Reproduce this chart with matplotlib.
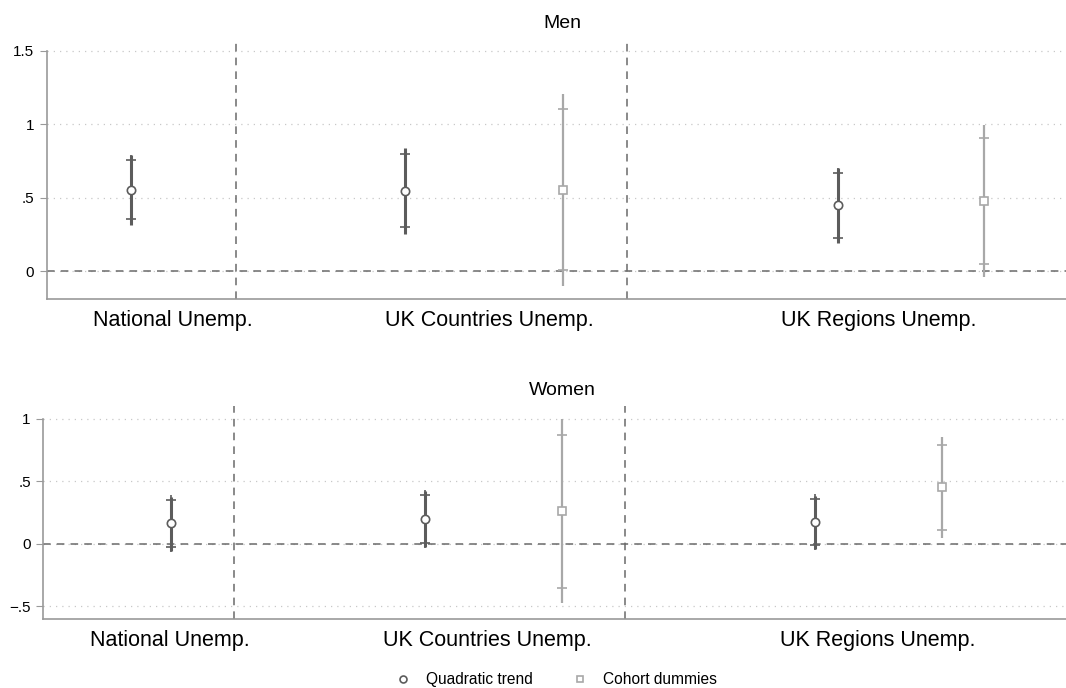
import numpy as np
import matplotlib.pyplot as plt
from matplotlib.lines import Line2D

plt.rcParams['font.family'] = ['Liberation Sans', 'DejaVu Sans']

groups = ["National Unemp.", "UK Countries Unemp.", "UK Regions Unemp."]

# Men: quadratic trend (all groups), cohort dummies (countries, regions)
men_quad = [0.555, 0.546, 0.448]
men_quad_ci95 = [(0.352, 0.755), (0.298, 0.794), (0.227, 0.667)]
men_quad_ci99 = [(0.316, 0.792), (0.255, 0.835), (0.189, 0.703)]
men_coh = [np.nan, 0.555, 0.478]
men_coh_ci95 = [(np.nan, np.nan), (0.007, 1.102), (0.048, 0.908)]
men_coh_ci99 = [(np.nan, np.nan), (-0.100, 1.209), (-0.037, 0.992)]

# Women
women_quad = [0.161, 0.199, 0.169]
women_quad_ci95 = [(-0.024, 0.349), (0.003, 0.389), (-0.008, 0.357)]
women_quad_ci99 = [(-0.056, 0.375), (-0.027, 0.421), (-0.040, 0.383)]
women_coh = [np.nan, 0.257, 0.450]
women_coh_ci95 = [(np.nan, np.nan), (-0.354, 0.871), (0.110, 0.788)]
women_coh_ci99 = [(np.nan, np.nan), (-0.471, 0.994), (0.043, 0.852)]

# layout (x in 0..100 axis units)
men_pos_quad = [8.3, 35.2, 77.6]
men_pos_coh = [np.nan, 50.7, 92.0]
women_pos_quad = [12.5, 37.3, 75.5]
women_pos_coh = [np.nan, 50.7, 87.9]
label_pos = [12.4, 43.4, 81.6]
sep_pos = [18.6, 56.9]

DARK = "#5c5c5c"
LIGHT = "#a8a8a8"


def draw_series(ax, xs, est, ci95, ci99, color, marker, lw):
    for x, b, c95, c99 in zip(xs, est, ci95, ci99):
        if np.isnan(b):
            continue
        ax.plot([x, x], c99, color=color, lw=lw, solid_capstyle="butt", zorder=3)
        ax.plot([x, x], c95, ls="none", marker="+", ms=7, mew=1.2, color=color, zorder=4)
        ax.plot(x, b, ls="none", marker=marker, ms=6, mfc="white", mec=color, mew=1.2, zorder=5)


def setup(ax, title, yticks, yticklabels, ylim, title_x):
    ax.set_xlim(0, 100)
    ax.set_ylim(*ylim)
    ax.set_yticks(yticks)
    ax.set_yticklabels(yticklabels, fontsize=11)
    ax.set_xticks(label_pos)
    ax.set_xticklabels(groups, fontsize=15.5)
    ax.tick_params(axis="x", length=0, pad=8)
    ax.tick_params(axis="y", length=5, color="#999999", pad=4)
    for s in ["top", "right"]:
        ax.spines[s].set_visible(False)
    for s in ["left", "bottom"]:
        ax.spines[s].set_color("#999999")
        ax.spines[s].set_linewidth(1.2)
    ax.spines["left"].set_bounds(ylim[0], max(yticks))
    for t in yticks:
        ax.axhline(t, color="#c8c8c8", lw=0.9, ls=(0, (1, 4)), zorder=1)
    ax.axhline(0, color="#6a6a6a", lw=1.1, ls=(0, (5, 4)), zorder=2)
    for s in sep_pos:
        ax.axvline(s, color="#6a6a6a", lw=1.1, ls=(0, (5, 4)), zorder=2)
    ax.annotate(title, xy=(title_x, 1.0), xycoords="axes fraction",
                xytext=(0, 5), textcoords="offset points", fontsize=14,
                ha="center", va="bottom")


fig = plt.figure(figsize=(10.66, 6.88), dpi=100)
ax1 = fig.add_axes([0.0438, 0.5654, 0.9562, 0.3779])
ax2 = fig.add_axes([0.0406, 0.1007, 0.9594, 0.3092])

setup(ax1, "Men", [0, 0.5, 1, 1.5], ["0", ".5", "1", "1.5"], (-0.19, 1.58), 0.506)
draw_series(ax1, men_pos_quad, men_quad, men_quad_ci95, men_quad_ci99, DARK, "o", 2.2)
draw_series(ax1, men_pos_coh, men_coh, men_coh_ci95, men_coh_ci99, LIGHT, "s", 1.6)

setup(ax2, "Women", [-0.5, 0, 0.5, 1], ["\u2212.5", "0", ".5", "1"], (-0.6, 1.1), 0.508)
draw_series(ax2, women_pos_quad, women_quad, women_quad_ci95, women_quad_ci99, DARK, "o", 2.2)
draw_series(ax2, women_pos_coh, women_coh, women_coh_ci95, women_coh_ci99, LIGHT, "s", 1.6)

handles = [
    Line2D([], [], ls="none", marker="o", ms=5, mfc="white", mec=DARK, mew=1.2),
    Line2D([], [], ls="none", marker="s", ms=5, mfc="white", mec=LIGHT, mew=1.2),
]
fig.legend(handles, ["Quadratic trend", "Cohort dummies"], loc="center",
           bbox_to_anchor=(0.521, 0.012), ncol=2, frameon=False, fontsize=11.2,
           handletextpad=0.9, columnspacing=2.4, handlelength=1.2)

fig.savefig("out.png", dpi=100)
